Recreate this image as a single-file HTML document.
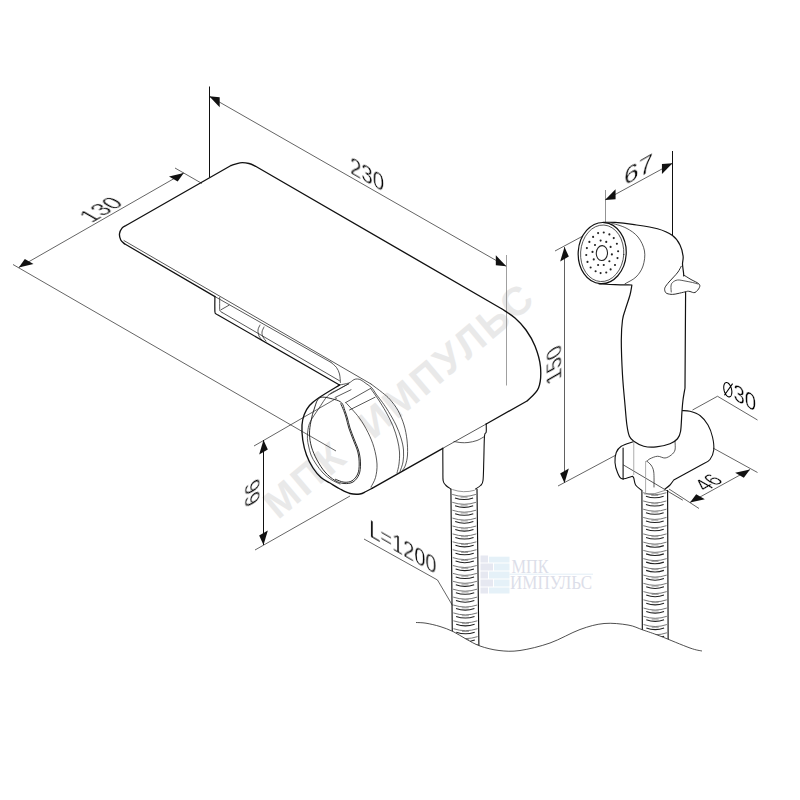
<!DOCTYPE html>
<html><head><meta charset="utf-8"><style>
html,body{margin:0;padding:0;background:#fff;}
body{width:800px;height:800px;overflow:hidden;font-family:"Liberation Sans",sans-serif;}
svg{display:block;}
</style></head><body>
<svg width="800" height="800" viewBox="0 0 800 800">
<rect width="800" height="800" fill="#fff"/>
<g fill="#e9e9e9" font-family="Liberation Sans, sans-serif" font-weight="bold" opacity="0.995">
<text x="0" y="0" font-size="40" letter-spacing="2.4" word-spacing="17" transform="translate(278 520.2) rotate(-40.1)">МПК ИМПУЛЬС</text>
</g>
<rect x="480.5" y="555.5" width="7.5" height="7" fill="#e6e8f1"/>
<rect x="489" y="556.7" width="20.5" height="5.8" fill="#e5f1f8"/>
<rect x="480.5" y="563.5" width="12.5" height="7" fill="#e6e8f1"/>
<rect x="494" y="563.5" width="15.5" height="7" fill="#e5f1f8"/>
<rect x="480.5" y="571.5" width="7.5" height="7" fill="#e6e8f1"/>
<rect x="489" y="571.5" width="20.5" height="7" fill="#e5f1f8"/>
<rect x="480.5" y="579.5" width="12.5" height="7" fill="#e6e8f1"/>
<rect x="494" y="579.5" width="15.5" height="7" fill="#e5f1f8"/>
<rect x="480.5" y="587.5" width="7.5" height="6" fill="#e6e8f1"/>
<rect x="489" y="587.5" width="20.5" height="6" fill="#e5f1f8"/>
<text x="511.5" y="573" font-family="Liberation Serif, serif" font-size="18.5" fill="#dcdee9" textLength="37" lengthAdjust="spacingAndGlyphs">МПК</text>
<line x1="509.5" y1="574.2" x2="593" y2="574.2" stroke="#e2eef6" stroke-width="1"/>
<text x="510" y="589.4" font-family="Liberation Serif, serif" font-size="18" fill="#dcdee9" textLength="82" lengthAdjust="spacingAndGlyphs">ИМПУЛЬС</text>
<path d="M13 264.5 L336 451 M175 168 L202 183.5 M18.75 267.5 L183.75 173 M209.25 96.25 L506.25 266.25 M555 251 L582 236.5 M558 486 L616 455 M605 200 L672.5 163.25 M692.5 410 L717.5 396.25 L757.5 420 M690 502.5 L750 469.5 M669 489 L699 508.5 M713 448 L757.5 472.5 M254 446 L337 398 M255 550 L350 496 M364 539 L437.5 580 L452.5 605.5" stroke="#222" stroke-width="0.7" fill="none"/>
<path d="M209.5 86.5 V177.5 M672.5 151 V235.6 M263.5 440 V545" stroke="#111" stroke-width="1" fill="none"/>
<path d="M506.5 255 V385.5" stroke="#888" stroke-width="0.8" fill="none"/>
<path d="M564.5 247 V483" stroke="#444" stroke-width="0.85" fill="none"/>
<path d="M605.5 190 V222.5" stroke="#777" stroke-width="0.8" fill="none"/>
<path d="M18.75 267.5 L33.49 264.04 L24.83 259.04Z" fill="#111"/>
<path d="M183.75 173 L177.67 181.46 L169.01 176.46Z" fill="#111"/>
<path d="M209.25 96.25 L219.66 107.21 L219.66 97.21Z" fill="#111"/>
<path d="M506.25 266.25 L495.84 265.29 L495.84 255.29Z" fill="#111"/>
<path d="M564.5 247 L560.17 261.5 L568.83 256.5Z" fill="#111"/>
<path d="M564.5 483 L560.17 473.5 L568.83 468.5Z" fill="#111"/>
<path d="M605 200 L615.54 199.26 L615.54 189.26Z" fill="#111"/>
<path d="M672.5 163.25 L661.96 173.99 L661.96 163.99Z" fill="#111"/>
<path d="M690 502.5 L704.84 499.22 L696.18 494.22Z" fill="#111"/>
<path d="M750 469.5 L743.82 477.78 L735.16 472.78Z" fill="#111"/>
<path d="M263.5 440 L259.17 454.5 L267.83 449.5Z" fill="#111"/>
<path d="M263.5 545 L259.17 535.5 L267.83 530.5Z" fill="#111"/>
<defs><clipPath id="aw"><path d="M416 622.5 C417.67 622.62 422 622.53 426 623.2 C430 623.87 435.5 625.12 440 626.5 C444.5 627.88 448.67 629.42 453 631.5 C457.33 633.58 461.5 636.58 466 639 C470.5 641.42 474.5 644.08 480 646 C485.5 647.92 492.33 649.75 499 650.5 C505.67 651.25 511.5 651.75 520 650.5 C528.5 649.25 540 646.5 550 643 C560 639.5 571 632.75 580 629.5 C589 626.25 596 624.25 604 623.5 C612 622.75 621.5 623.92 628 625 C634.5 626.08 637.67 628.17 643 630 C648.33 631.83 652.17 633 660 636 C667.83 639 683 645.5 690 648 C697 650.5 700 650.5 702 651 L702 0 L416 0Z"/></clipPath></defs>
<g clip-path="url(#aw)">
<path d="M450.9 489 L452.5 655 M477 489 L479 655" stroke="#111" stroke-width="1.15" fill="none"/>
<path d="M452.18 494.4 Q464.04 498.4 475.9 494.4 M452.25 502.3 Q464.12 506.3 475.99 502.3 M452.33 510.2 Q464.21 514.2 476.09 510.2 M452.41 518.1 Q464.29 522.1 476.18 518.1 M452.48 526 Q464.38 530 476.28 526 M452.56 533.9 Q464.47 537.9 476.37 533.9 M452.63 541.8 Q464.55 545.8 476.47 541.8 M452.71 549.7 Q464.64 553.7 476.56 549.7 M452.79 557.6 Q464.72 561.6 476.66 557.6 M452.86 565.5 Q464.81 569.5 476.75 565.5 M452.94 573.4 Q464.89 577.4 476.85 573.4 M453.01 581.3 Q464.98 585.3 476.94 581.3 M453.09 589.2 Q465.06 593.2 477.04 589.2 M453.17 597.1 Q465.15 601.1 477.13 597.1 M453.24 605 Q465.24 609 477.23 605 M453.32 612.9 Q465.32 616.9 477.32 612.9 M453.4 620.8 Q465.41 624.8 477.42 620.8 M453.47 628.7 Q465.49 632.7 477.51 628.7 M453.55 636.6 Q465.58 640.6 477.61 636.6 M453.62 644.5 Q465.66 648.5 477.7 644.5 M453.7 652.4 Q465.75 656.4 477.8 652.4" stroke="#555" stroke-width="0.8" fill="none"/>
<path d="M454.98 497.9 Q464.04 501.1 473.1 497.9 M455.05 505.8 Q464.12 509 473.19 505.8 M455.13 513.7 Q464.21 516.9 473.29 513.7 M455.21 521.6 Q464.29 524.8 473.38 521.6 M455.28 529.5 Q464.38 532.7 473.48 529.5 M455.36 537.4 Q464.47 540.6 473.57 537.4 M455.43 545.3 Q464.55 548.5 473.67 545.3 M455.51 553.2 Q464.64 556.4 473.76 553.2 M455.59 561.1 Q464.72 564.3 473.86 561.1 M455.66 569 Q464.81 572.2 473.95 569 M455.74 576.9 Q464.89 580.1 474.05 576.9 M455.81 584.8 Q464.98 588 474.14 584.8 M455.89 592.7 Q465.06 595.9 474.24 592.7 M455.97 600.6 Q465.15 603.8 474.33 600.6 M456.04 608.5 Q465.24 611.7 474.43 608.5 M456.12 616.4 Q465.32 619.6 474.52 616.4 M456.2 624.3 Q465.41 627.5 474.62 624.3 M456.27 632.2 Q465.49 635.4 474.71 632.2 M456.35 640.1 Q465.58 643.3 474.81 640.1 M456.42 648 Q465.66 651.2 474.9 648 M456.5 655.9 Q465.75 659.1 475 655.9" stroke="#222" stroke-width="1.1" fill="none"/>
<path d="M460.54 497.2 L467.54 497.2 M460.62 505.1 L467.62 505.1 M460.71 513 L467.71 513 M460.79 520.9 L467.79 520.9 M460.88 528.8 L467.88 528.8 M460.97 536.7 L467.97 536.7 M461.05 544.6 L468.05 544.6 M461.14 552.5 L468.14 552.5 M461.22 560.4 L468.22 560.4 M461.31 568.3 L468.31 568.3 M461.39 576.2 L468.39 576.2 M461.48 584.1 L468.48 584.1 M461.56 592 L468.56 592 M461.65 599.9 L468.65 599.9 M461.74 607.8 L468.74 607.8 M461.82 615.7 L468.82 615.7 M461.91 623.6 L468.91 623.6 M461.99 631.5 L468.99 631.5 M462.08 639.4 L469.08 639.4 M462.16 647.3 L469.16 647.3 M462.25 655.2 L469.25 655.2" stroke="#888" stroke-width="0.8" fill="none"/>
</g>
<g clip-path="url(#aw)">
<path d="M641.9 490 L642.4 655 M667.6 490 L668.2 655" stroke="#111" stroke-width="1.15" fill="none"/>
<path d="M643.12 492.7 Q654.77 496.7 666.42 492.7 M643.14 500.94 Q654.8 504.94 666.45 500.94 M643.17 509.18 Q654.82 513.18 666.48 509.18 M643.19 517.42 Q654.85 521.42 666.51 517.42 M643.22 525.66 Q654.88 529.66 666.54 525.66 M643.24 533.9 Q654.9 537.9 666.57 533.9 M643.27 542.14 Q654.93 546.14 666.6 542.14 M643.29 550.38 Q654.96 554.38 666.63 550.38 M643.32 558.62 Q654.99 562.62 666.66 558.62 M643.34 566.86 Q655.01 570.86 666.69 566.86 M643.37 575.1 Q655.04 579.1 666.72 575.1 M643.39 583.34 Q655.07 587.34 666.75 583.34 M643.42 591.58 Q655.1 595.58 666.78 591.58 M643.44 599.82 Q655.12 603.82 666.81 599.82 M643.47 608.06 Q655.15 612.06 666.84 608.06 M643.49 616.3 Q655.18 620.3 666.87 616.3 M643.52 624.54 Q655.21 628.54 666.9 624.54 M643.54 632.78 Q655.23 636.78 666.93 632.78 M643.57 641.02 Q655.26 645.02 666.96 641.02 M643.59 649.26 Q655.29 653.26 666.99 649.26" stroke="#555" stroke-width="0.8" fill="none"/>
<path d="M645.92 496.2 Q654.77 499.4 663.62 496.2 M645.94 504.44 Q654.8 507.64 663.65 504.44 M645.97 512.68 Q654.82 515.88 663.68 512.68 M645.99 520.92 Q654.85 524.12 663.71 520.92 M646.02 529.16 Q654.88 532.36 663.74 529.16 M646.04 537.4 Q654.9 540.6 663.77 537.4 M646.07 545.64 Q654.93 548.84 663.8 545.64 M646.09 553.88 Q654.96 557.08 663.83 553.88 M646.12 562.12 Q654.99 565.32 663.86 562.12 M646.14 570.36 Q655.01 573.56 663.89 570.36 M646.17 578.6 Q655.04 581.8 663.92 578.6 M646.19 586.84 Q655.07 590.04 663.95 586.84 M646.22 595.08 Q655.1 598.28 663.98 595.08 M646.24 603.32 Q655.12 606.52 664.01 603.32 M646.27 611.56 Q655.15 614.76 664.04 611.56 M646.29 619.8 Q655.18 623 664.07 619.8 M646.32 628.04 Q655.21 631.24 664.1 628.04 M646.34 636.28 Q655.23 639.48 664.13 636.28 M646.37 644.52 Q655.26 647.72 664.16 644.52 M646.39 652.76 Q655.29 655.96 664.19 652.76" stroke="#222" stroke-width="1.1" fill="none"/>
<path d="M651.27 495.5 L658.27 495.5 M651.3 503.74 L658.3 503.74 M651.32 511.98 L658.32 511.98 M651.35 520.22 L658.35 520.22 M651.38 528.46 L658.38 528.46 M651.4 536.7 L658.4 536.7 M651.43 544.94 L658.43 544.94 M651.46 553.18 L658.46 553.18 M651.49 561.42 L658.49 561.42 M651.51 569.66 L658.51 569.66 M651.54 577.9 L658.54 577.9 M651.57 586.14 L658.57 586.14 M651.6 594.38 L658.6 594.38 M651.62 602.62 L658.62 602.62 M651.65 610.86 L658.65 610.86 M651.68 619.1 L658.68 619.1 M651.71 627.34 L658.71 627.34 M651.73 635.58 L658.73 635.58 M651.76 643.82 L658.76 643.82 M651.79 652.06 L658.79 652.06" stroke="#888" stroke-width="0.8" fill="none"/>
</g>
<path d="M452.3 489.5 Q463.5 493.5 474.8 490.2 M644.3 494 Q655 495 665.3 490.3" stroke="#666" stroke-width="0.7" fill="none"/>
<path d="M416 622.5 C417.67 622.62 422 622.53 426 623.2 C430 623.87 435.5 625.12 440 626.5 C444.5 627.88 448.67 629.42 453 631.5 C457.33 633.58 461.5 636.58 466 639 C470.5 641.42 474.5 644.08 480 646 C485.5 647.92 492.33 649.75 499 650.5 C505.67 651.25 511.5 651.75 520 650.5 C528.5 649.25 540 646.5 550 643 C560 639.5 571 632.75 580 629.5 C589 626.25 596 624.25 604 623.5 C612 622.75 621.5 623.92 628 625 C634.5 626.08 637.67 628.17 643 630 C648.33 631.83 652.17 633 660 636 C667.83 639 683 645.5 690 648 C697 650.5 700 650.5 702 651" stroke="#222" stroke-width="0.8" fill="none"/>
<path d="M124.5 243.8 C123.88 243.17 121.58 241.68 120.75 240 C119.92 238.32 119.29 235.73 119.5 233.75 C119.71 231.77 120.92 229.47 122 228.1 C123.08 226.72 125.33 225.93 126 225.5 M126 225.5 L231 165.5 M231 165.5 C232.5 165.05 237 163.13 240 162.8 C243 162.47 246.33 162.88 249 163.5 C251.67 164.12 254.83 166 256 166.5 M256 166.5 L502 309 M502 309 C504.17 310.5 511 314.5 515 318 C519 321.5 522.67 325.33 526 330 C529.33 334.67 532.58 339.83 535 346 C537.42 352.17 539.92 360 540.5 367 C541.08 374 540.75 382.33 538.5 388 C536.25 393.67 528.92 398.83 527 401 M527 401 L486.2 424 M442.8 448.3 L372 488.3" stroke="#111" stroke-width="1.35" fill="none" stroke-linejoin="round" stroke-linecap="round"/>
<path d="M124.5 243.8 L215 296.6" stroke="#111" stroke-width="1.25" fill="none" stroke-linejoin="round" stroke-linecap="round"/>
<path d="M124 240.6 L371 384" stroke="#222" stroke-width="0.75" fill="none" stroke-linejoin="round" stroke-linecap="round"/>
<path d="M486.2 424 L442.8 448.3" stroke="#222" stroke-width="0.75" fill="none" stroke-linejoin="round" stroke-linecap="round"/>
<path d="M215 296.6 L331 362.4 M331 362.4 C331.92 363.25 335.08 365.57 336.5 367.5 C337.92 369.43 338.85 371.5 339.5 374 C340.15 376.5 340.25 381.08 340.4 382.5" stroke="#222" stroke-width="0.75" fill="none" stroke-linejoin="round" stroke-linecap="round"/>
<path d="M214.9 296.6 C214.9 299.08 214.72 308.63 214.9 311.5 C215.08 314.37 215.42 313.18 216 313.8 C216.58 314.42 218 314.97 218.4 315.2 M218.4 315.2 L339.5 385" stroke="#111" stroke-width="1.2" fill="none" stroke-linejoin="round" stroke-linecap="round"/>
<path d="M219.7 297.5 C219.7 299.5 219.57 307.2 219.7 309.5 C219.83 311.8 220.12 310.82 220.5 311.3 C220.88 311.78 221.75 312.22 222 312.4 M222 312.4 L339.5 380.75 M221 309.75 L229 305.2 M260 325 C259.67 325.83 258.17 328.17 258 330 C257.83 331.83 258.33 334.33 259 336 C259.67 337.67 261.5 339.33 262 340 M264 327 C263.67 327.83 262.17 330.33 262 332 C261.83 333.67 262.33 335.5 263 337 C263.67 338.5 265.5 340.33 266 341" stroke="#222" stroke-width="0.75" fill="none" stroke-linejoin="round" stroke-linecap="round"/>
<path d="M339.75 384.9 C336.21 387.08 323.54 394.57 318.5 398 C313.46 401.43 311.88 402.75 309.5 405.5 C307.12 408.25 305.5 411.25 304.25 414.5 C303 417.75 302.25 420.75 302 425 C301.75 429.25 302 435 302.75 440 C303.5 445 304.79 450.33 306.5 455 C308.21 459.67 310.58 464.25 313 468 C315.42 471.75 318.17 475 321 477.5 C323.83 480 326.83 481.08 330 483 C333.17 484.92 336.67 487.25 340 489 C343.33 490.75 346.67 492.67 350 493.5 C353.33 494.33 357.33 494.33 360 494 C362.67 493.67 364 492.45 366 491.5 C368 490.55 371 488.83 372 488.3" stroke="#111" stroke-width="1.35" fill="none" stroke-linejoin="round" stroke-linecap="round"/>
<path d="M319.9 397.5 C323.19 396.07 330.61 398.48 334.25 399.4 C337.89 400.32 339.98 401.13 341.75 403 C343.52 404.87 343.96 408.1 344.9 410.6 C345.84 413.1 346.55 415.1 347.4 418 C348.25 420.9 348.82 424.33 350 428 C351.18 431.67 353 436 354.5 440 C356 444 358 448 359 452 C360 456 360.5 460.25 360.5 464 C360.5 467.75 360.25 471.5 359 474.5 C357.75 477.5 355.5 480.5 353 482 C350.5 483.5 347 483.75 344 483.5 C341 483.25 338.17 482.42 335 480.5 C331.83 478.58 328 475.42 325 472 C322 468.58 319.25 464.17 317 460 C314.75 455.83 312.75 451.33 311.5 447 C310.25 442.67 309.58 438.33 309.5 434 C309.42 429.67 310.17 425.33 311 421 C311.83 416.67 313.02 411.92 314.5 408 C315.98 404.08 316.61 398.93 319.9 397.5Z M340.75 403.8 C341.24 404.93 342.79 408.23 343.7 410.6 C344.61 412.97 345.35 415.1 346.2 418 C347.05 420.9 347.62 424.33 348.8 428 C349.98 431.67 351.8 436 353.3 440 C354.8 444 356.82 448 357.8 452 C358.78 456 359.22 460.33 359.2 464 C359.18 467.67 358.9 471.2 357.7 474 C356.5 476.8 354.28 479.43 352 480.8 C349.72 482.17 346.75 482.45 344 482.2 C341.25 481.95 336.92 479.78 335.5 479.3" stroke="#222" stroke-width="0.95" fill="none" stroke-linejoin="round" stroke-linecap="round"/>
<path d="M339.75 384.9 C341.25 384.58 346.38 383.88 348.75 383 C351.12 382.12 352.54 380.27 354 379.6 C355.46 378.93 356.33 378.93 357.5 379 C358.67 379.07 359.58 379.25 361 380 C362.42 380.75 364.17 382.17 366 383.5 C367.83 384.83 370.33 386.25 372 388 C373.67 389.75 374.25 391.58 376 394 C377.75 396.42 380.42 399.58 382.5 402.5 C384.58 405.42 386.25 407.75 388.5 411.5 C390.75 415.25 393.92 420.58 396 425 C398.08 429.42 399.75 433.83 401 438 C402.25 442.17 403.17 446 403.5 450 C403.83 454 403.58 458.42 403 462 C402.42 465.58 400.5 469.92 400 471.5 M371 384 C372.92 385.46 379.33 390.17 382.5 392.75 C385.67 395.33 387.42 396.54 390 399.5 C392.58 402.46 395.67 406.25 398 410.5 C400.33 414.75 402.5 420.08 404 425 C405.5 429.92 406.42 435 407 440 C407.58 445 407.75 450.83 407.5 455 C407.25 459.17 406.33 462.42 405.5 465 C404.67 467.58 403 469.58 402.5 470.5 M371 389 C372.17 390.67 375.5 395.17 378 399 C380.5 402.83 383.5 407.5 386 412 C388.5 416.5 391.08 421.33 393 426 C394.92 430.67 396.42 435.67 397.5 440 C398.58 444.33 399.25 448 399.5 452 C399.75 456 399.42 460.5 399 464 C398.58 467.5 397.33 471.5 397 473 M330 394.25 L348.75 383.75 M335 397.5 L351 389.75 M345.75 402.5 L370.9 388.25 M349.5 410 L375 397.25 M348.75 383.75 C346.96 384.71 341.46 387.54 338 389.5 C334.54 391.46 331.23 392.29 328 395.5 C324.77 398.71 321.52 404.46 318.6 408.75 C315.68 413.04 312.27 417.81 310.5 421.25 C308.73 424.69 308.52 426.48 308 429.4 C307.48 432.32 307.3 435.98 307.4 438.75 C307.5 441.52 308 443.29 308.6 446 C309.2 448.71 309.77 452 311 455 C312.23 458 314 461 316 464 C318 467 320.5 470.42 323 473 C325.5 475.58 328.17 477.67 331 479.5 C333.83 481.33 338.5 483.25 340 484 M345.75 402.5 C347.96 405 355.29 412.5 359 417.5 C362.71 422.5 365.5 427.5 368 432.5 C370.5 437.5 372.5 442.25 374 447.5 C375.5 452.75 376.75 459 377 464 C377.25 469 376.5 473.67 375.5 477.5 C374.5 481.33 371.75 485.42 371 487" stroke="#222" stroke-width="0.75" fill="none" stroke-linejoin="round" stroke-linecap="round"/>
<path d="M442.8 448.3 C442.82 451.92 442.83 464.55 442.9 470 C442.97 475.45 442.68 478.42 443.2 481 C443.72 483.58 444.7 484.17 446 485.5 C447.3 486.83 450.17 488.42 451 489 M486.2 423.8 C486.2 425.17 486.48 429.97 486.2 432 C485.92 434.03 484.9 431.33 484.5 436 C484.1 440.67 484.05 452.58 483.8 460 C483.55 467.42 483.55 476.25 483 480.5 C482.45 484.75 481.75 484.08 480.5 485.5 C479.25 486.92 476.33 488.42 475.5 489" stroke="#111" stroke-width="1.1" fill="none" stroke-linejoin="round" stroke-linecap="round"/>
<path d="M454 441.5 C455.17 441.68 458.67 442.43 461 442.6 C463.33 442.77 465.33 442.85 468 442.5 C470.67 442.15 474.25 441.5 477 440.5 C479.75 439.5 483.25 437.17 484.5 436.5" stroke="#222" stroke-width="0.75" fill="none" stroke-linejoin="round" stroke-linecap="round"/>
<ellipse cx="602.2" cy="253.1" rx="24" ry="30.6" transform="rotate(3.5 602.2 253.1)" stroke="#111" stroke-width="1.2" fill="none" stroke-linejoin="round" stroke-linecap="round"/>
<ellipse cx="602.2" cy="253.3" rx="21.6" ry="28.3" transform="rotate(3.5 602.2 253.3)" stroke="#222" stroke-width="0.75" fill="none" stroke-linejoin="round" stroke-linecap="round"/>
<ellipse cx="601.9" cy="253.1" rx="5.6" ry="7.5" transform="rotate(3 601.9 253.1)" stroke="#222" stroke-width="1.05" fill="none" stroke-linejoin="round" stroke-linecap="round"/>
<g fill="#222"><circle cx="598.12" cy="233.12" r="1.05"/><circle cx="603.75" cy="232.5" r="1.05"/><circle cx="609.38" cy="234.38" r="1.05"/><circle cx="613.75" cy="238.12" r="1.05"/><circle cx="616.88" cy="243.75" r="1.05"/><circle cx="618.12" cy="251.25" r="1.05"/><circle cx="617.5" cy="258.12" r="1.05"/><circle cx="615" cy="265" r="1.05"/><circle cx="610.62" cy="269.38" r="1.05"/><circle cx="606.25" cy="272.5" r="1.05"/><circle cx="600.62" cy="273.12" r="1.05"/><circle cx="595.62" cy="271.25" r="1.05"/><circle cx="590.62" cy="267.5" r="1.05"/><circle cx="587.5" cy="261.88" r="1.05"/><circle cx="586.25" cy="255" r="1.05"/><circle cx="586.88" cy="248.12" r="1.05"/><circle cx="589.38" cy="241.88" r="1.05"/><circle cx="593.12" cy="236.88" r="1.05"/><circle cx="600.62" cy="240.62" r="1.05"/><circle cx="606.25" cy="241.88" r="1.05"/><circle cx="610.62" cy="246.88" r="1.05"/><circle cx="611.88" cy="254.38" r="1.05"/><circle cx="609.38" cy="261.25" r="1.05"/><circle cx="603.75" cy="265" r="1.05"/><circle cx="598.12" cy="265" r="1.05"/><circle cx="593.75" cy="259.38" r="1.05"/><circle cx="592.5" cy="251.88" r="1.05"/><circle cx="595" cy="245" r="1.05"/></g>
<path d="M611.25 223 C613.71 223.83 621.54 225.67 626 228 C630.46 230.33 634.92 233.17 638 237 C641.08 240.83 643.67 246.17 644.5 251 C645.33 255.83 644.42 261.67 643 266 C641.58 270.33 639 274.04 636 277 C633 279.96 626.83 282.62 625 283.75" stroke="#222" stroke-width="0.75" fill="none" stroke-linejoin="round" stroke-linecap="round"/>
<path d="M603 222.3 C605 222.32 610.08 222.05 615 222.4 C619.92 222.75 625.42 223.34 632.5 224.4 C639.58 225.46 650.83 226.88 657.5 228.75 C664.17 230.62 668.75 232.89 672.5 235.6 C676.25 238.31 678.23 241.56 680 245 C681.77 248.44 682.68 253.08 683.1 256.25 C683.52 259.42 682.43 261.29 682.5 264 C682.57 266.71 683.29 270.5 683.5 272.5 C683.71 274.5 683.71 275.42 683.75 276 M599 283.8 C601.67 283.93 609.52 284.4 615 284.6 C620.48 284.8 629.08 284.93 631.9 285 M631.9 285 C631.58 286.67 631.07 291 630 295 C628.93 299 626.75 304.83 625.5 309 C624.25 313.17 623.2 314.83 622.5 320 C621.8 325.17 621.3 330.83 621.3 340 C621.3 349.17 621.88 364.17 622.5 375 C623.12 385.83 624.27 396.67 625 405 C625.73 413.33 626.17 419.79 626.9 425 C627.63 430.21 628.26 433.54 629.4 436.25 C630.54 438.96 631.36 439.58 633.75 441.25 C636.14 442.92 640 445.31 643.75 446.25 C647.5 447.19 651.88 447.32 656.25 446.9 C660.62 446.48 666.46 445.11 670 443.75 C673.54 442.39 675.73 440.83 677.5 438.75 C679.27 436.67 679.87 435.62 680.6 431.25 C681.33 426.88 681.5 417.71 681.9 412.5 C682.3 407.29 682.48 404.08 683 400 C683.52 395.92 684.67 390 685 388 M685 388 L685.6 292" stroke="#111" stroke-width="1.2" fill="none" stroke-linejoin="round" stroke-linecap="round"/>
<path d="M683.75 275 C684.96 275.75 688.5 278.04 691 279.5 C693.5 280.96 697.35 282.42 698.75 283.75 C700.15 285.08 700.02 286.04 699.4 287.5 C698.77 288.96 696.57 291.83 695 292.5 C693.43 293.17 691.25 291.71 690 291.5 C688.75 291.29 688.33 291.18 687.5 291.25 C686.67 291.32 686.58 291.52 685 291.9 C683.42 292.27 680.08 293.08 678 293.5 C675.92 293.92 674.33 294.4 672.5 294.4 C670.67 294.4 668.25 294.02 667 293.5 C665.75 292.98 665.33 292.25 665 291.25 C664.67 290.25 664.33 289.04 665 287.5 C665.67 285.96 667.54 283.77 669 282 C670.46 280.23 672.25 278.57 673.75 276.9 C675.25 275.23 676.75 273.77 678 272 C679.25 270.23 680.71 267.21 681.25 266.25" stroke="#222" stroke-width="0.95" fill="none" stroke-linejoin="round" stroke-linecap="round"/>
<path d="M671.25 292 C671.21 291 670.79 287.58 671 286 C671.21 284.42 671.42 283.5 672.5 282.5 C673.58 281.5 675.42 280.25 677.5 280 C679.58 279.75 682.5 280.58 685 281 C687.5 281.42 690.33 282 692.5 282.5 C694.67 283 697.08 283.75 698 284" stroke="#222" stroke-width="0.75" fill="none" stroke-linejoin="round" stroke-linecap="round"/>
<path d="M682.5 410.6 C683.75 410.71 687.08 410.43 690 411.25 C692.92 412.07 697 413.21 700 415.5 C703 417.79 705.92 421.42 708 425 C710.08 428.58 711.54 432.83 712.5 437 C713.46 441.17 714.17 446.25 713.75 450 C713.33 453.75 711.79 457.17 710 459.5 C708.21 461.83 704.17 463.25 703 464 M703 464 L673.75 480 M673.75 480 C673.12 480.83 671.46 483.5 670 485 C668.54 486.5 665.83 488.33 665 489 M632.5 441.9 C630.62 442.62 623.96 444.48 621.25 446.25 C618.54 448.02 617.29 449.79 616.25 452.5 C615.21 455.21 614.79 459.17 615 462.5 C615.21 465.83 616.35 469.79 617.5 472.5 C618.65 475.21 619.4 478.12 621.9 478.75 C624.4 479.38 630.73 476.67 632.5 476.25 M632.5 476.25 C632.71 476.54 633.23 476.54 633.75 478 C634.27 479.46 634.35 483 635.6 485 C636.85 487 640.31 489.17 641.25 490 M623.1 448 L623.1 479.4" stroke="#111" stroke-width="1.1" fill="none" stroke-linejoin="round" stroke-linecap="round"/>
<path d="M675 441.25 C675 442.71 675.62 447.71 675 450 C674.38 452.29 672.92 453.67 671.25 455 C669.58 456.33 667.29 457.79 665 458 C662.71 458.21 660 456.12 657.5 456.25 C655 456.38 651.77 457.92 650 458.75 C648.23 459.58 647.42 460.83 646.9 461.25 M646.9 461.25 C647.58 461.88 649.86 463.21 651 465 C652.14 466.79 653.25 468.33 653.75 472 C654.25 475.67 653.96 484.5 654 487 M623.5 465 L682.5 500" stroke="#222" stroke-width="0.75" fill="none" stroke-linejoin="round" stroke-linecap="round"/>
<path d="M633.75 442 V475 M645.6 461 V494" stroke="#999" stroke-width="0.8" fill="none"/>
<g stroke="#fff" stroke-width="0.35" opacity="0.995"><text font-family="Liberation Sans, sans-serif" font-size="23.5" fill="#000" transform="matrix(0.85 -0.49 0.87 0.5 91.7 223.28)">130</text><text font-family="Liberation Sans, sans-serif" font-size="23.5" fill="#000" transform="matrix(0.87 0.5 0 1 350.02 172.9)">230</text><text font-family="Liberation Sans, sans-serif" font-size="23.5" fill="#000" transform="matrix(1.11 -0.64 0 1 624.13 186.29)">67</text><text font-family="Liberation Sans, sans-serif" font-size="23.5" fill="#000" transform="matrix(0 -0.92 0.87 -0.5 561.37 378.69)">150</text><text font-family="Liberation Sans, sans-serif" font-size="23.5" fill="#000" transform="matrix(0.87 0.5 0 1 733.49 399.26)">30</text><text font-family="Liberation Sans, sans-serif" font-size="23.5" fill="#000" transform="matrix(0.71 -0.41 0.87 0.5 705.9 491.75)">46</text><text font-family="Liberation Sans, sans-serif" font-size="23.5" fill="#000" transform="matrix(0 -0.94 0.87 -0.5 259.65 501.25)">66</text><text font-family="Liberation Sans, sans-serif" font-size="23.5" fill="#000" transform="matrix(0.85 0.49 0 1 369.31 536.14)">L=1200</text></g><path d="M731.87 392.05 L731.84 391.14 L731.73 390.21 L731.56 389.27 L731.32 388.34 L731.03 387.42 L730.68 386.55 L730.28 385.74 L729.84 384.99 L729.36 384.32 L728.85 383.74 L728.33 383.26 L727.8 382.9 L727.27 382.65 L726.75 382.52 L726.24 382.52 L725.76 382.64 L725.32 382.87 L724.92 383.23 L724.57 383.7 L724.28 384.26 L724.04 384.93 L723.87 385.67 L723.76 386.48 L723.73 387.35 L723.76 388.26 L723.87 389.19 L724.04 390.13 L724.28 391.06 L724.57 391.98 L724.92 392.85 L725.32 393.66 L725.76 394.41 L726.24 395.08 L726.75 395.66 L727.27 396.14 L727.8 396.5 L728.33 396.75 L728.85 396.88 L729.36 396.88 L729.84 396.76 L730.28 396.53 L730.68 396.17 L731.03 395.7 L731.32 395.14 L731.56 394.47 L731.73 393.73 L731.84 392.92Z M724.4 395.2 L732.6 383.6" stroke="#000" stroke-width="1.05" fill="none"/>
</svg>
</body></html>
